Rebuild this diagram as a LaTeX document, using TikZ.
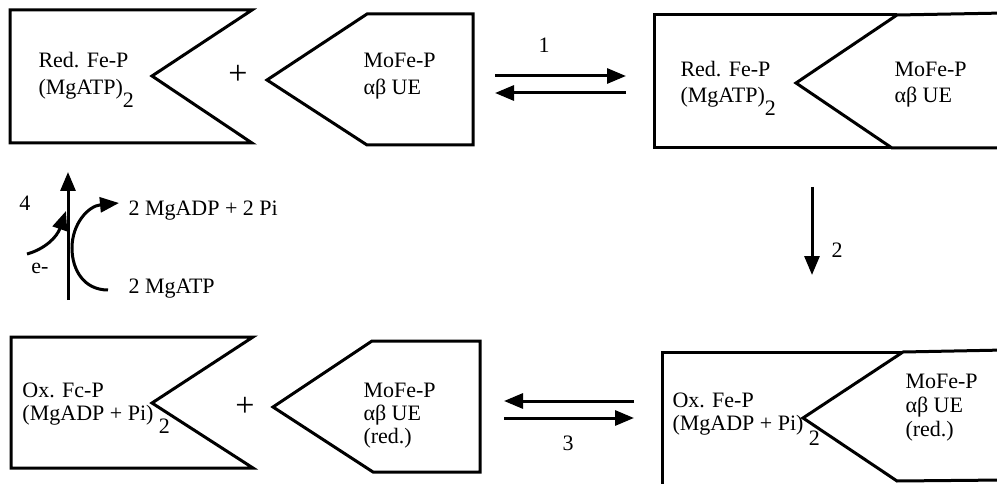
\documentclass[tikz,border=0pt]{standalone}
\usepackage{fontspec}
\setmainfont{Liberation Serif}
\usetikzlibrary{arrows.meta}
\begin{document}
\begin{tikzpicture}[x=1pt,y=-1pt,line width=3pt,line join=miter,
  txt/.style={anchor=base west,inner sep=0pt,font=\fontsize{22}{24}\selectfont},
  num/.style={inner sep=0pt,font=\fontsize{22}{24}\selectfont},
  plus/.style={inner sep=0pt,font=\fontsize{34}{36}\selectfont},
  arr/.style={-{Triangle[length=19pt,width=15pt]}},
  carr/.style={-{Triangle[length=19pt,width=15pt]}}]
\clip (0,0) rectangle (997,484);
\fill[white] (0,0) rectangle (997,484);
% top-left Fe-P
\draw (10,10) -- (252,10) -- (152,76) -- (252,143) -- (10,143) -- cycle;
% top-left MoFe-P
\draw (267,80) -- (367,14) -- (473,14) -- (473,145) -- (367,145) -- cycle;
% top-right complex
\draw (897,15) -- (654,15) -- (654,148) -- (892,148);
\draw (1005,13) -- (897,15) -- (796,83) -- (892,148) -- (1005,148);
% bottom-left Ox Fe-P
\draw (11,337) -- (253,337) -- (152,403) -- (253,468) -- (11,468) -- cycle;
% bottom-left MoFe-P (red.)
\draw (273,407) -- (372,341) -- (480,341) -- (480,472) -- (373,472) -- cycle;
% bottom-right complex
\draw (662,495) -- (662,352) -- (903,352);
\draw (1005,350) -- (903,352) -- (803,418) -- (897,481) -- (1005,480);

% texts
\node[txt] (t1a) at (37,68) {Red. Fe-P};
\node[txt] (t1b) at (37,95) {(MgATP)\raisebox{-13pt}{2}};
\node[txt] (t2a) at (362,68) {MoFe-P};
\node[txt] (t2b) at (362,95) {αβ UE};
\node[plus] (p1) at (238,75) {+};
\node[txt] (t3a) at (679,77) {Red. Fe-P};
\node[txt] (t3b) at (679,103) {(MgATP)\raisebox{-13pt}{2}};
\node[txt] (t4a) at (893,77) {MoFe-P};
\node[txt] (t4b) at (893,103) {αβ UE};
\node[txt] (t5a) at (21,397) {Ox. Fc-P};
\node[txt] (t5b) at (21,420) {(MgADP + Pi) \raisebox{-13pt}{2}};
\node[plus] (p2) at (245,407) {+};
\node[txt] (t6a) at (362,397) {MoFe-P};
\node[txt] (t6b) at (362,420) {αβ UE};
\node[txt] (t6c) at (362,443) {(red.)};
\node[txt] (t7a) at (671,407) {Ox. Fe-P};
\node[txt] (t7b) at (671,430) {(MgADP + Pi) \raisebox{-15pt}{2}};
\node[txt] (t8a) at (904,388) {MoFe-P};
\node[txt] (t8b) at (904,412) {αβ UE};
\node[txt] (t8c) at (904,436) {(red.)};

% reaction arrows
\coordinate (a1s) at (495,76); \coordinate (a1e) at (626,76);
\coordinate (b1s) at (626,93); \coordinate (b1e) at (495,93);
\draw[arr] (a1s) -- (a1e);
\draw[arr] (b1s) -- (b1e);
\node[num] (n1) at (544,45) {1};
\coordinate (a2s) at (812,187); \coordinate (a2e) at (812,275);
\draw[arr] (a2s) -- (a2e);
\node[num] (n2) at (837,250) {2};
\coordinate (a3s) at (634,401); \coordinate (a3e) at (504,401);
\coordinate (b3s) at (504,418); \coordinate (b3e) at (634,418);
\draw[arr] (a3s) -- (a3e);
\draw[arr] (b3s) -- (b3e);
\node[num] (n3) at (568,443) {3};

% cycle 4
\coordinate (v4s) at (68,300); \coordinate (v4e) at (68,172);
\draw[carr] (v4s) -- (v4e);
\node[num] (n4) at (25,203) {4};
\coordinate (es) at (27,254); \coordinate (ee) at (66,211);
\draw[carr] (es) .. controls (45,249) and (57,237) .. (ee);
\node[num] (el) at (40,268) {e-};
\coordinate (cs) at (108,290); \coordinate (cm) at (72,248); \coordinate (ce) at (119,203);
\draw[carr] (cs) .. controls (84,290) and (72,270) .. (cm) .. controls (72,224) and (88,206) .. (ce);
\node[txt] (adp) at (127,216) {2 MgADP + 2 Pi};
\node[txt] (atp) at (127,293) {2 MgATP};
\end{tikzpicture}
\end{document}
